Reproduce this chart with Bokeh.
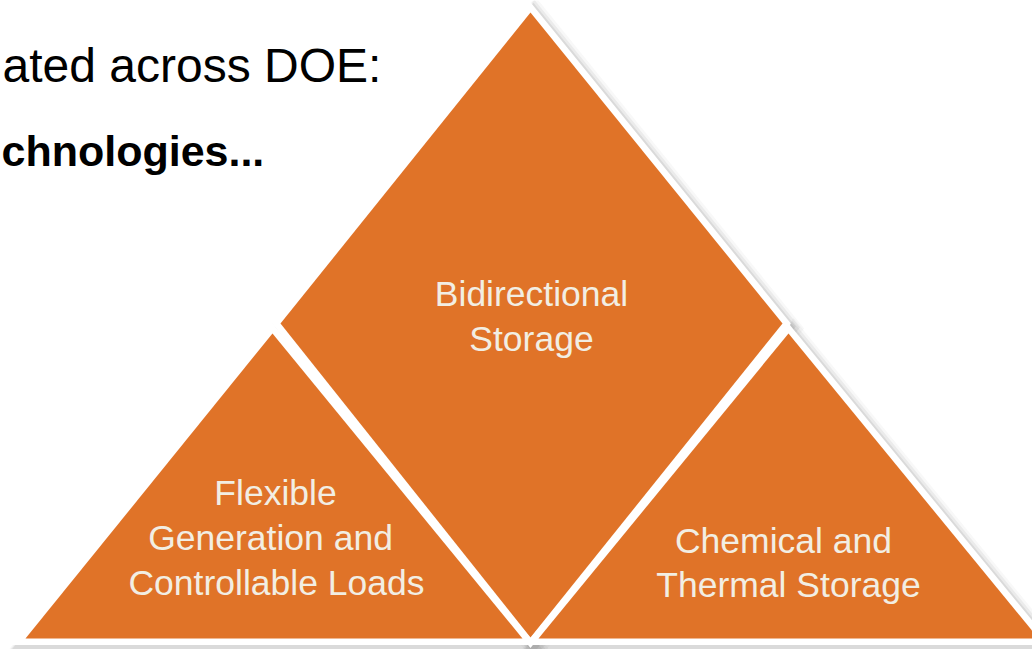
from bokeh.plotting import figure
from bokeh.models import Range1d
from bokeh.core.properties import value
from bokeh.embed import file_html
from bokeh.resources import INLINE

# ---- data (image pixel coordinates of the diagram shapes) ----
diamond_x = [530, 782, 530, 280]
diamond_y = [12, 323, 637, 323]
left_x = [272, 522, 25]
left_y = [333, 638, 638]
right_x = [788, 1038, 538]
right_y = [333, 638, 638]

shape_xs = [diamond_x, left_x, right_x]
shape_ys = [diamond_y, left_y, right_y]

label_lines = ["Bidirectional", "Storage",
               "Flexible", "Generation and", "Controllable Loads",
               "Chemical and", "Thermal Storage"]
label_x = [531, 531, 275, 270, 276, 783, 788]
label_y = [293, 338, 492, 537, 582, 540, 584]

heading_lines = ["ated across DOE:", "chnologies..."]
heading_x = [2, 1]
heading_y = [65, 150]

ORANGE = "#E07328"
CREAM = "#F2EEE3"

W, H = 1032, 649
p = figure(width=W, height=H, output_backend="svg", toolbar_location=None,
           x_range=Range1d(0, W), y_range=Range1d(H, 0),
           min_border=0, outline_line_color=None, background_fill_color="white",
           border_fill_color="white")
p.axis.visible = False
p.grid.visible = False

# soft shadow layers
for off, lw, a in [(5, 26, 0.06), (4, 21, 0.10), (3, 16, 0.16)]:
    p.patches([[x + off for x in xs] for xs in shape_xs],
              [[y + off for y in ys] for ys in shape_ys],
              fill_color="#808080", fill_alpha=a, line_color="#808080",
              line_alpha=a, line_width=lw, line_join="miter")

# white borders + orange fills
for xs, ys in zip(shape_xs, shape_ys):
    p.patch(xs, ys, fill_color="white", line_color="white", line_width=13,
            line_join="miter")
    p.patch(xs, ys, fill_color=ORANGE, line_color=None)

p.text(x=label_x, y=label_y, text=label_lines, text_color=CREAM,
       text_font=value("Liberation Sans"), text_font_size="35.5px",
       text_align="center", text_baseline="middle")

p.text(x=heading_x[:1], y=heading_y[:1], text=heading_lines[:1], text_color="black",
       text_font=value("Liberation Sans"), text_font_size="48px",
       text_align="left", text_baseline="alphabetic")
p.text(x=heading_x[1:], y=heading_y[1:], text=heading_lines[1:], text_color="black",
       text_font=value("Liberation Sans"), text_font_size="43px",
       text_font_style="bold",
       text_align="left", text_baseline="alphabetic")

open("out.html", "w").write(file_html(p, INLINE))
